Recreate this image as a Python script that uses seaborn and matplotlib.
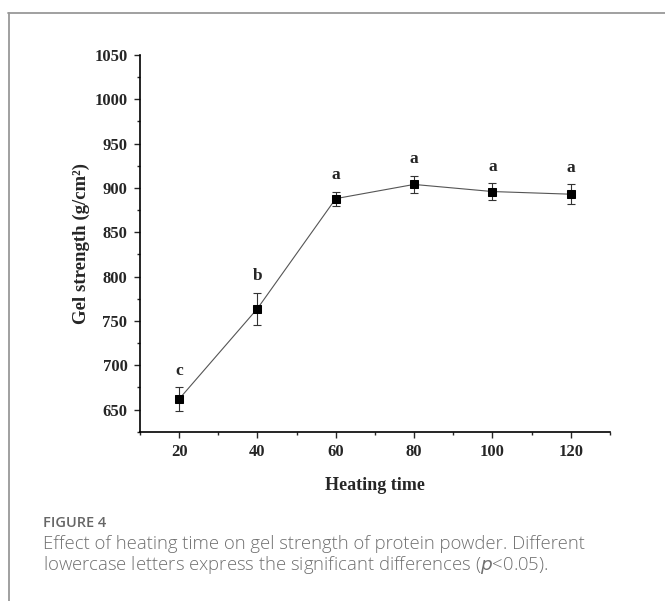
import matplotlib
matplotlib.use('Agg')
import matplotlib.pyplot as plt
import seaborn as sns
import pandas as pd
from matplotlib.lines import Line2D
from matplotlib.ticker import MultipleLocator

# data
heating_time = [20, 40, 60, 80, 100, 120]
gel_strength = [662, 764, 888, 904, 896, 893]
gel_err = [13, 18, 8, 10, 9.5, 11.5]
letters = ['c', 'b', 'a', 'a', 'a', 'a']

df = pd.DataFrame({'time': heating_time, 'strength': gel_strength, 'err': gel_err})

sns.set_style('ticks')
plt.rcParams['font.family'] = ['Liberation Serif', 'DejaVu Serif']

fig = plt.figure(figsize=(6.65, 6.01), dpi=100)
ax = fig.add_axes([0.2105, 0.2815, 0.7065, 0.627])

ax.errorbar(df['time'], df['strength'], yerr=df['err'], fmt='none',
            ecolor='#333333', elinewidth=0.8, capsize=2.7, capthick=0.8, zorder=2)
sns.lineplot(data=df, x='time', y='strength', ax=ax, color='#555555', lw=0.8,
             marker='s', markersize=6.3, markerfacecolor='black',
             markeredgecolor='black', zorder=3)

for x, y, e, t in zip(heating_time, gel_strength, gel_err, letters):
    ax.annotate(t, (x, y + e), xytext=(0, 6), textcoords='offset points',
                ha='center', va='bottom', fontsize=12.5, fontweight='bold')

ax.set_xlim(10, 130)
ax.set_ylim(625, 1050)
ax.xaxis.set_major_locator(MultipleLocator(20))
ax.xaxis.set_minor_locator(MultipleLocator(10))
ax.yaxis.set_minor_locator(MultipleLocator(25))
ax.set_yticks(range(650, 1051, 50))
ax.tick_params(which='major', length=4, width=1, labelsize=12, direction='out', pad=5)
ax.tick_params(which='minor', length=2.5, width=1, direction='out')
for lab in ax.get_xticklabels() + ax.get_yticklabels():
    lab.set_fontweight('bold')

sns.despine(ax=ax)
for s in ['left', 'bottom']:
    ax.spines[s].set_linewidth(1.2)
    ax.spines[s].set_color('black')

ax.set_xlabel('Heating time', fontsize=13, fontweight='bold', labelpad=12)
ax.set_ylabel('Gel strength (g/cm²)', fontsize=13.5, fontweight='bold', labelpad=3)

# outer frame lines of the figure panel
fig.add_artist(Line2D([8 / 665, 1], [1 - 12.5 / 601, 1 - 12.5 / 601], color='#999999', lw=1.3))
fig.add_artist(Line2D([8.5 / 665, 8.5 / 665], [0, 1 - 12.5 / 601], color='#999999', lw=1.3))

cap_font = ['Open Sans', 'DejaVu Sans']
fig.text(43 / 665, 1 - 523 / 601, 'FIGURE 4', family=cap_font, fontsize=10.5,
         color='#666666', va='center', fontweight='semibold')
fig.text(43 / 665, 1 - 544 / 601,
         'Effect of heating time on gel strength of protein powder. Different',
         family=cap_font, fontsize=13.3, color='#707070', va='center', fontweight='light')
fig.text(43 / 665, 1 - 565 / 601,
         'lowercase letters express the significant differences ($\\it{p}$<0.05).',
         family=cap_font, fontsize=13.3, color='#707070', va='center', fontweight='light')

fig.savefig('out.png', dpi=100)
